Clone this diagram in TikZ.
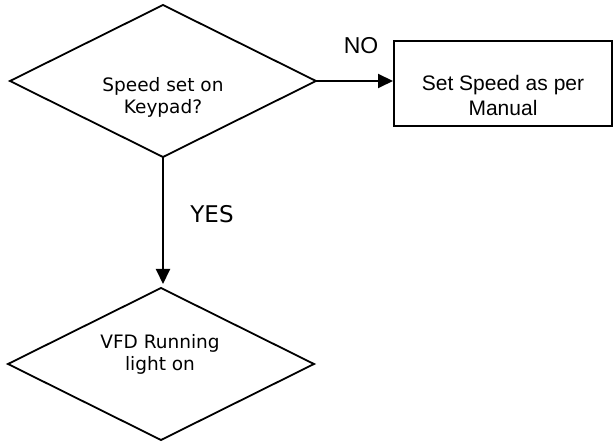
\documentclass[tikz,border=0pt]{standalone}
\usepackage{fontspec}
\setmainfont{Liberation Sans}
\newfontfamily\dvsans{DejaVu Sans}
\usetikzlibrary{shapes.geometric,arrows.meta}
\tikzset{
  decision/.style={draw, diamond, line width=1.8pt, inner sep=0pt, outer sep=0pt,
    minimum width=306pt, minimum height=152pt, shape aspect=2},
  actionbox/.style={draw, rectangle, line width=2.2pt, inner sep=0pt, outer sep=0pt,
    minimum width=218pt, minimum height=85pt},
  flow/.style={line width=2pt, -{Triangle[length=15pt,width=14pt]}},
  dtext/.style={align=center, font=\dvsans\fontsize{18.5}{22}\selectfont, inner sep=0pt},
  btext/.style={align=center, font=\fontsize{21}{25}\selectfont, inner sep=0pt},
  answer/.style={inner sep=0pt}
}
\begin{document}
\begin{tikzpicture}[x=1pt, y=-1pt]
  \useasboundingbox (0,0) rectangle (614,443);
  % decision shapes and the action box
  \node[decision] (d1) at (163,81) {};
  \node[decision] (d2) at (161,364) {};
  \node[actionbox] (r) at (503,83.5) {};
  % texts
  \node[dtext] (t1) at (163,97) {Speed set on\\Keypad?};
  \node[dtext] (t2) at (160,354.5) {VFD Running\\light on};
  \node[btext] (t3) at (503,95) {Set Speed as per\\Manual};
  \node[answer, font=\fontsize{23}{26}\selectfont] (no) at (361,46) {NO};
  \node[answer, font=\dvsans\fontsize{23}{26}\selectfont] (yes) at (212,214) {YES};
  % connectors
  \draw[flow, shorten >=1pt] (d1.east) -- (r.west |- d1.east);
  \draw[flow, shorten >=4pt] (d1.south) -- (d1.south |- d2.north);
\end{tikzpicture}
\end{document}
